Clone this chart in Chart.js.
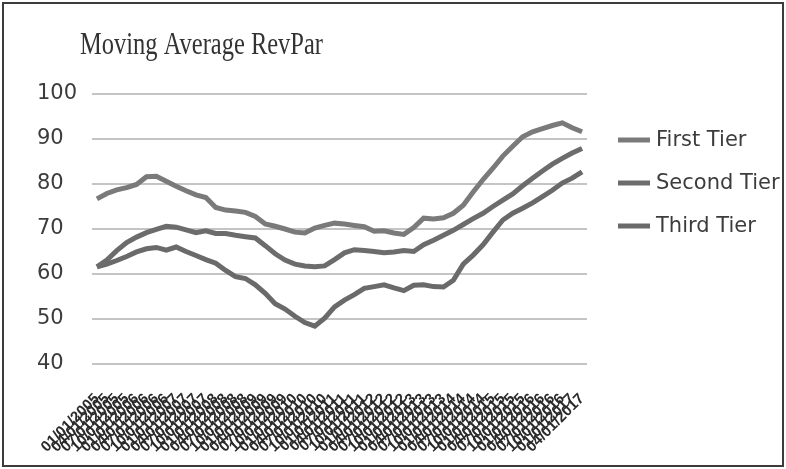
<!DOCTYPE html>
<html>
<head>
<meta charset="utf-8">
<script src="https://cdn.jsdelivr.net/npm/chart.js@4.4.0/dist/chart.umd.min.js"></script>
<style>
  html, body { margin: 0; padding: 0; background: #ffffff; }
  #wrap { width: 786px; height: 469px; }
</style>
</head>
<body>
<div id="wrap"><canvas id="chart" width="786" height="469"></canvas></div>
<script>
const chartTitle = 'Moving Average RevPar';
const seriesNames = ['First Tier', 'Second Tier', 'Third Tier'];

const periodLabels = [
  '01/01/2005','04/01/2005','07/01/2005','10/01/2005',
  '01/01/2006','04/01/2006','07/01/2006','10/01/2006',
  '01/01/2007','04/01/2007','07/01/2007','10/01/2007',
  '01/01/2008','04/01/2008','07/01/2008','10/01/2008',
  '01/01/2009','04/01/2009','07/01/2009','10/01/2009',
  '01/01/2010','04/01/2010','07/01/2010','10/01/2010',
  '01/01/2011','04/01/2011','07/01/2011','10/01/2011',
  '01/01/2012','04/01/2012','07/01/2012','10/01/2012',
  '01/01/2013','04/01/2013','07/01/2013','10/01/2013',
  '01/01/2014','04/01/2014','07/01/2014','10/01/2014',
  '01/01/2015','04/01/2015','07/01/2015','10/01/2015',
  '01/01/2016','04/01/2016','07/01/2016','10/01/2016',
  '01/01/2017','04/01/2017'
];

const firstTier = [
  76.7, 77.9, 78.7, 79.2, 79.9, 81.6, 81.7, 80.6, 79.5, 78.5,
  77.6, 77.0, 74.8, 74.2, 74.0, 73.7, 72.8, 71.1, 70.6, 70.0,
  69.3, 69.1, 70.2, 70.8, 71.3, 71.1, 70.8, 70.5, 69.5, 69.6,
  69.1, 68.8, 70.3, 72.4, 72.2, 72.5, 73.5, 75.3, 78.2, 81.0,
  83.5, 86.2, 88.4, 90.5, 91.6, 92.3, 93.0, 93.6, 92.5, 91.6
];

const secondTier = [
  61.6, 63.1, 65.2, 67.0, 68.2, 69.2, 69.9, 70.6, 70.4, 69.8,
  69.2, 69.6, 69.0, 69.0, 68.6, 68.3, 68.0, 66.3, 64.5, 63.1,
  62.2, 61.8, 61.6, 61.8, 63.2, 64.7, 65.4, 65.2, 65.0, 64.7,
  64.9, 65.2, 65.0, 66.5, 67.5, 68.6, 69.7, 71.0, 72.3, 73.5,
  75.0, 76.4, 77.8, 79.6, 81.3, 82.9, 84.4, 85.7, 86.9, 87.9
];

const thirdTier = [
  61.6, 62.2, 63.0, 63.9, 64.9, 65.6, 65.9, 65.3, 66.0, 65.0,
  64.1, 63.2, 62.4, 60.8, 59.4, 59.0, 57.6, 55.7, 53.4, 52.2,
  50.6, 49.2, 48.4, 50.2, 52.7, 54.2, 55.4, 56.8, 57.2, 57.6,
  56.9, 56.3, 57.5, 57.6, 57.2, 57.1, 58.6, 62.2, 64.2, 66.5,
  69.3, 72.0, 73.5, 74.6, 75.8, 77.2, 78.6, 80.2, 81.3, 82.7
];

const yMin = 40;
const yMax = 100;
const yStep = 10;

const lineColors = ['#7a7a7a', '#6c6c6c', '#6a6a6a'];
const textColor = '#3c3c3c';

// white page, outer frame, heading and the series key
const decorations = {
  id: 'decorations',
  beforeDraw(chart) {
    const ctx = chart.ctx;
    ctx.save();
    ctx.fillStyle = '#ffffff';
    ctx.fillRect(0, 0, chart.width, chart.height);
    ctx.restore();
  },
  afterDraw(chart) {
    const ctx = chart.ctx;
    ctx.save();
    // frame
    ctx.strokeStyle = '#3c3c3c';
    ctx.lineWidth = 2;
    ctx.strokeRect(3, 3, chart.width - 6, chart.height - 6);

    // heading, set a little narrow
    ctx.font = '32px "Liberation Serif", "Times New Roman", serif';
    ctx.fillStyle = '#333333';
    ctx.textBaseline = 'alphabetic';
    ctx.textAlign = 'left';
    const w = ctx.measureText(chartTitle).width;
    const targetW = 243;
    const sx = targetW / w;
    ctx.save();
    ctx.translate(80, 54);
    ctx.scale(sx, 1);
    ctx.fillText(chartTitle, 0, 0);
    ctx.restore();

    // key
    const rowsY = [140, 183, 226];
    ctx.font = '21px "DejaVu Sans", sans-serif';
    ctx.textBaseline = 'middle';
    chart.data.datasets.forEach((ds, i) => {
      const y = rowsY[i];
      ctx.strokeStyle = ds.borderColor;
      ctx.lineWidth = 5;
      ctx.lineCap = 'butt';
      ctx.beginPath();
      ctx.moveTo(618, y);
      ctx.lineTo(650, y);
      ctx.stroke();
      ctx.fillStyle = textColor;
      ctx.fillText(ds.label, 656, y + 1);
    });
    ctx.restore();
  }
};

const seriesValues = [firstTier, secondTier, thirdTier];

new Chart(document.getElementById('chart'), {
  type: 'line',
  data: {
    labels: periodLabels,
    datasets: seriesNames.map((name, i) => ({
      label: name,
      data: seriesValues[i],
      borderColor: lineColors[i],
      backgroundColor: lineColors[i],
      borderWidth: 5,
      pointRadius: 0,
      tension: 0,
      fill: false
    }))
  },
  options: {
    responsive: false,
    animation: false,
    devicePixelRatio: 1,
    layout: { padding: { left: 37, right: 199, top: 94, bottom: 0 } },
    plugins: {
      legend: { display: false },
      title: { display: false },
      tooltip: { enabled: false }
    },
    scales: {
      x: {
        offset: true,
        grid: { display: false, drawTicks: false },
        border: { display: false },
        ticks: {
          autoSkip: false,
          maxRotation: 45,
          minRotation: 45,
          padding: 26,
          color: '#2a2a2a',
          font: { family: '"Liberation Sans", Arial, sans-serif', size: 15, weight: 'bold' }
        },
        afterFit(scale) { scale.height = 105; }
      },
      y: {
        min: yMin,
        max: yMax,
        grid: { color: '#c4c4c4', lineWidth: 2, drawTicks: false },
        border: { display: false },
        ticks: {
          stepSize: yStep,
          crossAlign: 'far',
          padding: 0,
          color: textColor,
          font: { family: '"DejaVu Sans", sans-serif', size: 21 }
        },
        afterFit(scale) { scale.width = 55; }
      }
    }
  },
  plugins: [decorations]
});
</script>
</body>
</html>
